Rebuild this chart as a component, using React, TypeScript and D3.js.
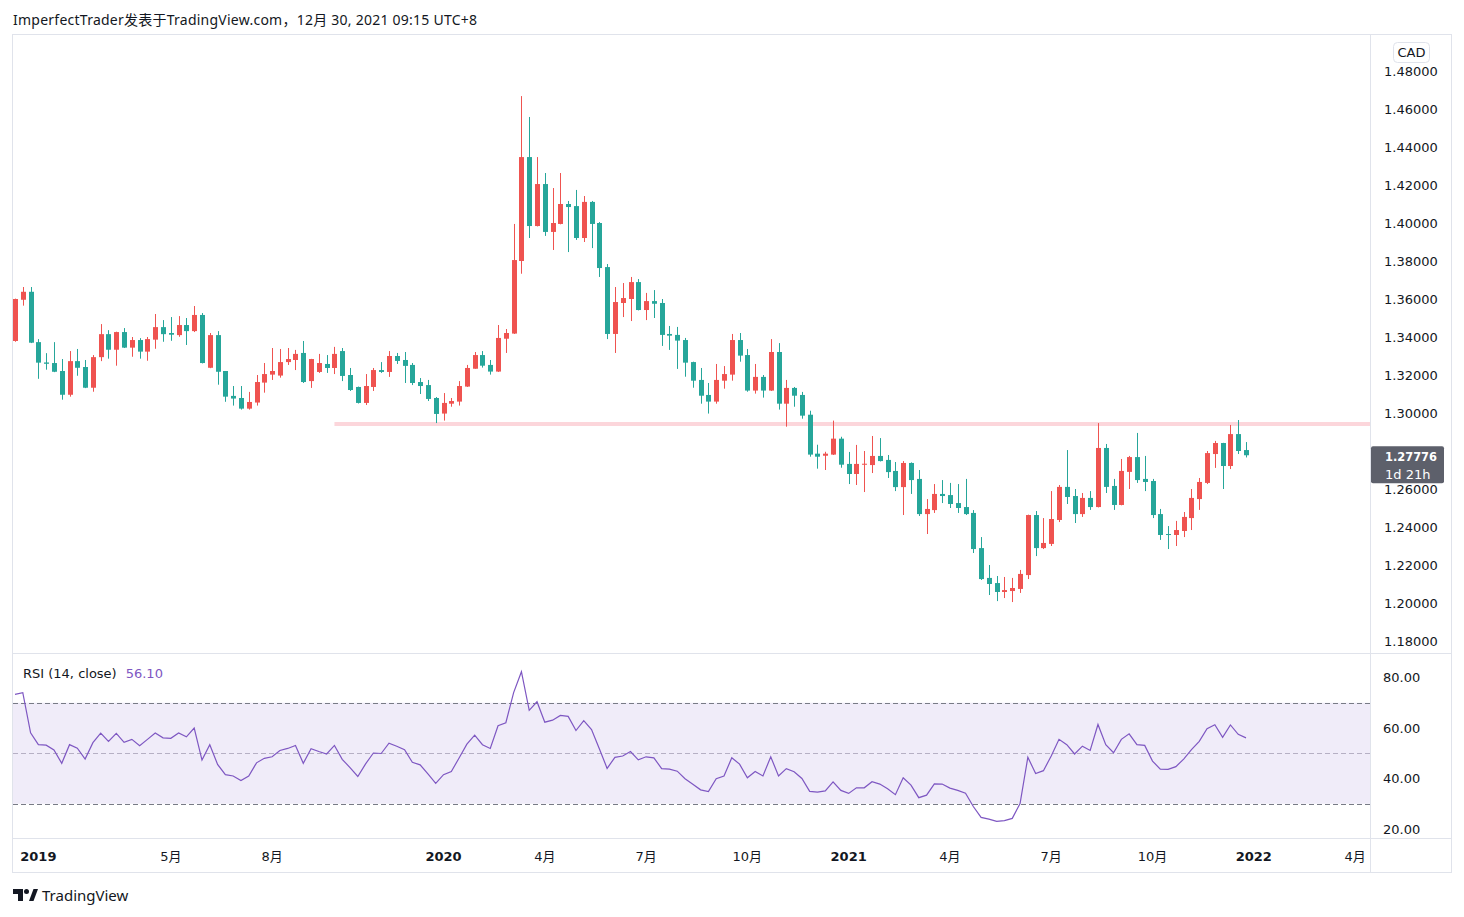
import React from "react";
import * as d3 from "d3";

// ---------- DATA (weekly USDCAD candles) ----------
const startWeek = "2018-12-17"; // Monday of the first visible weekly bar

const opens = [
  1.3379, 1.3596, 1.3638, 1.3373, 1.3266, 1.3263, 1.3221, 1.3096, 1.3273, 1.3242,
  1.3133, 1.3294, 1.3415, 1.3333, 1.3426, 1.3344, 1.3384, 1.3323, 1.3386, 1.3452,
  1.3421, 1.341, 1.3463, 1.3431, 1.3516, 1.3238, 1.341, 1.3221, 1.309, 1.3079,
  1.3023, 1.3055, 1.316, 1.3202, 1.3197, 1.3268, 1.3279, 1.3316, 1.3168, 1.3216,
  1.3258, 1.3237, 1.3326, 1.32, 1.3137, 1.3053, 1.3137, 1.3226, 1.3216, 1.33,
  1.3279, 1.3253, 1.3163, 1.3147, 1.3079, 1.2997, 1.3049, 1.306, 1.3139, 1.3233,
  1.3305, 1.3253, 1.3218, 1.3391, 1.3418, 1.38, 1.4347, 1.3984, 1.4205, 1.3953,
  1.3995, 1.41, 1.4089, 1.3921, 1.4111, 1.4, 1.3768, 1.3416, 1.3579, 1.36,
  1.3689, 1.3542, 1.3589, 1.3579, 1.3416, 1.3411, 1.3384, 1.3268, 1.3174, 1.3095,
  1.306, 1.317, 1.3202, 1.3384, 1.3305, 1.3118, 1.319, 1.3118, 1.3321, 1.3049,
  1.3132, 1.3095, 1.2991, 1.2786, 1.2775, 1.2781, 1.2865, 1.2732, 1.2679, 1.2728,
  1.2726, 1.2774, 1.2753, 1.2695, 1.261, 1.2737, 1.2653, 1.2468, 1.2489, 1.2574,
  1.2568, 1.2526, 1.2505, 1.2474, 1.2289, 1.2132, 1.2105, 1.2058, 1.2063, 1.2074,
  1.2147, 1.2463, 1.2289, 1.2311, 1.2437, 1.2611, 1.2563, 1.2468, 1.2553, 1.2505,
  1.2816, 1.2616, 1.2516, 1.269, 1.2768, 1.2653, 1.2642, 1.2468, 1.2363, 1.2358,
  1.2379, 1.2447, 1.2547, 1.2632, 1.2784, 1.2842, 1.2721, 1.2889, 1.2805,
];
const highs = [
  1.3602, 1.3663, 1.3663, 1.3389, 1.3315, 1.3373, 1.3284, 1.3326, 1.3337, 1.3279,
  1.3305, 1.3468, 1.3436, 1.3428, 1.3447, 1.34, 1.3394, 1.34, 1.3521, 1.3489,
  1.3505, 1.351, 1.35, 1.3563, 1.3526, 1.3421, 1.3431, 1.3221, 1.3142, 1.3142,
  1.3111, 1.32, 1.3263, 1.3342, 1.3337, 1.3342, 1.3332, 1.3379, 1.3285, 1.3311,
  1.3305, 1.3348, 1.3342, 1.3237, 1.3139, 1.3205, 1.3237, 1.3268, 1.3326, 1.3316,
  1.3321, 1.3263, 1.3184, 1.3174, 1.3084, 1.3105, 1.3079, 1.3168, 1.3253, 1.3321,
  1.3326, 1.3279, 1.3463, 1.3442, 1.3995, 1.4668, 1.4558, 1.4347, 1.4263, 1.4184,
  1.4263, 1.4116, 1.4174, 1.4142, 1.4116, 1.4005, 1.3784, 1.3663, 1.3684, 1.3716,
  1.3705, 1.3632, 1.3647, 1.36, 1.3458, 1.3453, 1.3395, 1.327, 1.3237, 1.3158,
  1.3258, 1.3247, 1.3416, 1.3421, 1.3337, 1.3258, 1.32, 1.3389, 1.3368, 1.3174,
  1.3137, 1.3111, 1.3012, 1.2833, 1.2796, 1.296, 1.2875, 1.2795, 1.2832, 1.28,
  1.2879, 1.2868, 1.2779, 1.2742, 1.2747, 1.274, 1.27, 1.2547, 1.2626, 1.2647,
  1.2632, 1.2626, 1.2653, 1.2489, 1.2347, 1.22, 1.2142, 1.2137, 1.2132, 1.2174,
  1.2465, 1.2484, 1.2447, 1.2589, 1.2621, 1.2805, 1.26, 1.2579, 1.2589, 1.2947,
  1.2837, 1.2653, 1.2758, 1.2774, 1.2895, 1.2774, 1.2653, 1.2495, 1.2405, 1.2432,
  1.2479, 1.26, 1.2658, 1.28, 1.2853, 1.2843, 1.2937, 1.2963, 1.2847,
];
const lows = [
  1.3375, 1.3565, 1.3368, 1.318, 1.3228, 1.3215, 1.307, 1.3086, 1.3196, 1.3131,
  1.3112, 1.3273, 1.3286, 1.3249, 1.3342, 1.3296, 1.3286, 1.3275, 1.3338, 1.3375,
  1.338, 1.3401, 1.3358, 1.3426, 1.3261, 1.3236, 1.3149, 1.3059, 1.3039, 1.3018,
  1.3018, 1.3039, 1.3107, 1.3174, 1.3186, 1.3253, 1.3226, 1.3158, 1.3132, 1.3211,
  1.3211, 1.3205, 1.3168, 1.3116, 1.305, 1.3042, 1.3116, 1.3211, 1.319, 1.3258,
  1.3158, 1.3147, 1.31, 1.3063, 1.2947, 1.296, 1.3033, 1.3039, 1.3137, 1.3233,
  1.3239, 1.3202, 1.3216, 1.3316, 1.3416, 1.3733, 1.3921, 1.3982, 1.3932, 1.3858,
  1.3993, 1.3847, 1.3911, 1.39, 1.3868, 1.3716, 1.3389, 1.3316, 1.3505, 1.3484,
  1.354, 1.3489, 1.35, 1.3353, 1.3332, 1.3232, 1.3191, 1.3133, 1.3049, 1.2997,
  1.3049, 1.3128, 1.317, 1.327, 1.3112, 1.3102, 1.3081, 1.3116, 1.3018, 1.2928,
  1.3033, 1.297, 1.277, 1.2707, 1.27, 1.2779, 1.2712, 1.2626, 1.2621, 1.2584,
  1.2684, 1.2745, 1.2658, 1.2589, 1.2463, 1.2574, 1.2458, 1.2363, 1.2474, 1.2526,
  1.25, 1.2474, 1.2463, 1.2263, 1.2121, 1.2042, 1.201, 1.2026, 1.2005, 1.2053,
  1.2126, 1.2247, 1.2284, 1.23, 1.2426, 1.2521, 1.2421, 1.2453, 1.249, 1.2503,
  1.2579, 1.249, 1.2514, 1.26, 1.2632, 1.2589, 1.2447, 1.2332, 1.2284, 1.23,
  1.2347, 1.2384, 1.249, 1.2626, 1.2711, 1.26, 1.2705, 1.2784, 1.2766,
];
const closes = [
  1.36, 1.3638, 1.337, 1.3265, 1.3259, 1.3217, 1.3096, 1.3273, 1.3238, 1.3133,
  1.3294, 1.3415, 1.3333, 1.3426, 1.3344, 1.3384, 1.3323, 1.3389, 1.3452, 1.3415,
  1.3412, 1.3463, 1.3431, 1.3516, 1.3263, 1.341, 1.3217, 1.3086, 1.3076, 1.3023,
  1.3058, 1.3163, 1.3205, 1.3221, 1.3268, 1.3284, 1.3311, 1.3163, 1.3284, 1.3263,
  1.3237, 1.3311, 1.3195, 1.3121, 1.3053, 1.3142, 1.3226, 1.3216, 1.33, 1.3274,
  1.3248, 1.3158, 1.3142, 1.3074, 1.2995, 1.3053, 1.3063, 1.3142, 1.3237, 1.3305,
  1.3249, 1.3218, 1.3395, 1.3421, 1.3805, 1.4347, 1.3984, 1.4205, 1.3953, 1.4,
  1.41, 1.4084, 1.3921, 1.4111, 1.3995, 1.3763, 1.3416, 1.3584, 1.3605, 1.3689,
  1.3542, 1.3589, 1.3575, 1.3411, 1.3407, 1.3381, 1.3265, 1.317, 1.3091, 1.306,
  1.3174, 1.3205, 1.3384, 1.3302, 1.3118, 1.319, 1.3118, 1.3321, 1.3049, 1.3132,
  1.3091, 1.2986, 1.2781, 1.277, 1.2786, 1.2865, 1.2728, 1.2679, 1.2732, 1.2733,
  1.2774, 1.2747, 1.2689, 1.261, 1.2737, 1.2647, 1.2468, 1.2495, 1.2574, 1.2563,
  1.2521, 1.25, 1.2468, 1.2284, 1.2126, 1.21, 1.2058, 1.2068, 1.2079, 1.2153,
  1.2463, 1.2289, 1.2316, 1.2442, 1.2611, 1.2558, 1.2468, 1.2553, 1.2505, 1.2816,
  1.2611, 1.2516, 1.2695, 1.2768, 1.2647, 1.2637, 1.2463, 1.2358, 1.2358, 1.2384,
  1.2453, 1.2553, 1.2637, 1.2789, 1.2842, 1.2721, 1.2889, 1.28, 1.27776,
];
const rsiValues = [
  73.3, 74.0, 58.1, 53.4, 53.2, 51.3, 46.0, 53.4, 52.0, 47.7,
  54.2, 58.0, 54.7, 57.9, 54.3, 55.5, 53.0, 55.5, 58.0, 56.1,
  55.9, 58.0, 56.5, 60.0, 47.3, 53.4, 45.6, 41.5, 41.0, 39.2,
  41.0, 46.2, 48.0, 48.6, 51.1, 51.9, 53.1, 46.0, 51.8, 50.7,
  49.7, 53.1, 47.6, 44.3, 40.8, 45.8, 50.1, 49.9, 54.0, 52.8,
  51.4, 46.4, 45.4, 41.8, 38.1, 41.5, 42.8, 48.1, 53.6, 57.2,
  53.4, 51.9, 60.9, 62.1, 74.0, 82.3, 67.0, 70.4, 62.3, 63.1,
  65.0, 64.6, 59.0, 62.9, 59.4, 51.8, 44.0, 48.4, 48.9, 50.7,
  47.4, 48.6, 48.2, 43.9, 43.7, 42.9, 39.9, 37.7, 35.5, 34.8,
  39.9, 41.0, 48.2, 45.7, 40.3, 42.8, 41.0, 48.6, 41.0, 43.9,
  42.7, 40.0, 34.9, 34.6, 35.1, 38.7, 35.3, 34.1, 36.3, 36.3,
  38.7, 37.8, 35.9, 33.6, 40.3, 37.4, 32.4, 33.4, 37.9, 37.8,
  36.2, 35.3, 34.2, 28.9, 24.6, 23.9, 23.0, 23.3, 24.2, 30.1,
  48.4, 42.0, 43.1, 48.9, 55.5, 53.4, 49.7, 52.8, 51.1, 61.4,
  53.4, 50.2, 55.5, 57.7, 53.4, 53.1, 46.9, 43.7, 43.6, 44.7,
  47.7, 51.4, 54.7, 59.7, 61.3, 56.3, 61.2, 57.5, 56.1,
];

// 1.28000 sits hidden under the last-price badge in the reference, so it is not listed
const priceTicks = [1.18, 1.2, 1.22, 1.24, 1.26, 1.3, 1.32, 1.34, 1.36, 1.38, 1.4, 1.42, 1.44, 1.46, 1.48];
const rsiTicks = [20, 40, 60, 80];
const rsiBands = [70, 50, 30];
const timeTickDates = ["2019-01-07", "2019-05-06", "2019-08-05", "2020-01-06", "2020-04-06", "2020-07-06", "2020-10-05", "2021-01-04", "2021-04-05", "2021-07-05", "2021-10-04", "2022-01-03", "2022-04-04"];
const timeTickLabels = ["2019", "5月", "8月", "2020", "4月", "7月", "10月", "2021", "4月", "7月", "10月", "2022", "4月"];
const levelPrice = 1.2942; // horizontal ray
const levelStartBar = 41;
const lastPrice = 1.27776;
const lastRsi = "56.10";
const countdown = "1d 21h";
const headerText = "ImperfectTrader发表于TradingView.com，12月 30, 2021 09:15 UTC+8";

// ---------- STYLE ----------
const UP = "#ef5350";
const DOWN = "#26a69a";
const GRID = "#e0e3eb";
const TXT = "#131722";
const FONT = "'DejaVu Sans', 'Noto Sans CJK SC', sans-serif";
const HFONT = "'Noto Sans', 'Noto Sans CJK SC', sans-serif";

export default function App() {
  const W = 1464, H = 917;
  const plotL = 13, plotR = 1370;
  const priceTop = 35, priceBot = 653;
  const rsiTop = 654, rsiBot = 838;
  const n = closes.length;
  const parse = d3.utcParse("%Y-%m-%d");
  const start = parse(startWeek)!;
  const dates = d3.range(n).map((i) => d3.utcDay.offset(start, 7 * i));

  const x = d3.scaleUtc().domain([dates[0], dates[n - 1]]).range([15, 1246]);
  const y = d3.scaleLinear().domain([1.18, 1.48]).range([641, 71]);
  const yr = d3.scaleLinear().domain([20, 80]).range([829, 677.5]);

  const bodyW = 5;
  const rsiLine = d3
    .line<number>()
    .x((_, i) => x(dates[i]))
    .y((v) => yr(v))(rsiValues);

  const fmt = (v: number) => v.toFixed(5);

  return (
    <svg
      width={W}
      height={H}
      style={{ position: "absolute", left: 0, top: 0, background: "#fff" }}
      fontFamily={FONT}
    >
      <defs>
        <clipPath id="pclip">
          <rect x={plotL} y={priceTop} width={plotR - plotL} height={priceBot - priceTop} />
        </clipPath>
        <clipPath id="rclip">
          <rect x={plotL} y={rsiTop} width={plotR - plotL} height={rsiBot - rsiTop} />
        </clipPath>
      </defs>
      <rect x={0} y={0} width={W} height={H} fill="#fff" />

      {/* header */}
      <text
        x={13}
        y={19}
        fontSize={14}
        fill={TXT}
        fontFamily={HFONT}
        dominantBaseline="central"
        textLength={464}
        lengthAdjust="spacing"
      >
        {headerText}
      </text>

      {/* price pane */}
      <g clipPath="url(#pclip)">
        <line
          x1={x(dates[levelStartBar])}
          x2={plotR}
          y1={y(levelPrice)}
          y2={y(levelPrice)}
          stroke="#fcd6db"
          strokeWidth={4}
        />
        {closes.map((c, i) => {
          const o = opens[i];
          const up = c >= o;
          const col = up ? UP : DOWN;
          const cx = Math.round(x(dates[i]));
          const top = y(Math.max(o, c));
          const bot = y(Math.min(o, c));
          return (
            <g key={i}>
              <line x1={cx + 0.5} x2={cx + 0.5} y1={y(highs[i])} y2={y(lows[i])} stroke={col} strokeWidth={1} />
              <rect x={cx - 2} y={top} width={bodyW} height={Math.max(1, bot - top)} fill={col} />
            </g>
          );
        })}
      </g>

      {/* RSI pane */}
      <g clipPath="url(#rclip)">
        <rect x={plotL} y={yr(70)} width={plotR - plotL} height={yr(30) - yr(70)} fill="#f0ecf9" />
        {rsiBands.map((b) => (
          <line
            key={b}
            x1={plotL}
            x2={plotR}
            y1={Math.round(yr(b)) + 0.5}
            y2={Math.round(yr(b)) + 0.5}
            stroke={b === 50 ? "#b6b0c4" : "#787b86"}
            strokeWidth={1}
            strokeDasharray="5,3"
          />
        ))}
        <path d={rsiLine || ""} fill="none" stroke="#7e57c2" strokeWidth={1.2} />
      </g>
      <text x={23} y={673} fontSize={13} dominantBaseline="central" fill={TXT}>
        RSI (14, close)
        <tspan dx={9} fill="#7e57c2">{lastRsi}</tspan>
      </text>

      {/* frame */}
      <rect x={12.5} y={34.5} width={1439} height={838} fill="none" stroke={GRID} />
      <line x1={plotR + 0.5} x2={plotR + 0.5} y1={34.5} y2={872.5} stroke={GRID} />
      <line x1={12.5} x2={1451.5} y1={priceBot + 0.5} y2={priceBot + 0.5} stroke={GRID} />
      <line x1={12.5} x2={1451.5} y1={rsiBot + 0.5} y2={rsiBot + 0.5} stroke={GRID} />

      {/* price axis */}
      {priceTicks.map((t) => (
        <text key={t} x={1384} y={y(t)} fontSize={13} fill={TXT} dominantBaseline="central">
          {fmt(t)}
        </text>
      ))}
      <rect x={1393.5} y={42.5} width={36} height={20} rx={4} fill="#fff" stroke={GRID} />
      <text x={1411.5} y={52.5} fontSize={13} fill={TXT} textAnchor="middle" dominantBaseline="central">
        CAD
      </text>
      <rect x={1371} y={y(lastPrice) - 9} width={73} height={37} rx={2} fill="#5d606b" />
      <text
        x={1385}
        y={y(lastPrice) + 1}
        fontSize={13}
        fontWeight="bold"
        fill="#fff"
        dominantBaseline="central"
        textLength={52}
        lengthAdjust="spacingAndGlyphs"
      >
        {lastPrice.toFixed(5)}
      </text>
      <text x={1385} y={y(lastPrice) + 19} fontSize={13} fill="#fff" dominantBaseline="central">
        {countdown}
      </text>

      {/* RSI axis */}
      {rsiTicks.map((t) => (
        <text key={t} x={1383} y={yr(t)} fontSize={13} fill={TXT} dominantBaseline="central">
          {t.toFixed(2)}
        </text>
      ))}

      {/* time axis */}
      {timeTickDates.map((d, i) => {
        const lbl = timeTickLabels[i];
        const isYear = /^\d{4}$/.test(lbl);
        return (
          <text
            key={d}
            x={x(parse(d)!)}
            y={856}
            fontSize={13}
            fontWeight={isYear ? "bold" : "normal"}
            fill={TXT}
            textAnchor="middle"
            dominantBaseline="central"
          >
            {lbl}
          </text>
        );
      })}

      {/* TradingView logo */}
      <g transform="translate(13,889)" fill={TXT}>
        <path d="M0 0 H10 V12 H5 V5 H0 Z" />
        <circle cx={13.5} cy={2.5} r={2.5} />
        <path d="M16 12 L20.5 0 H25 L20.5 12 Z" />
      </g>
      <text x={42} y={895} fontSize={15} fill={TXT} fontFamily={HFONT} dominantBaseline="central">
        TradingView
      </text>
    </svg>
  );
}
